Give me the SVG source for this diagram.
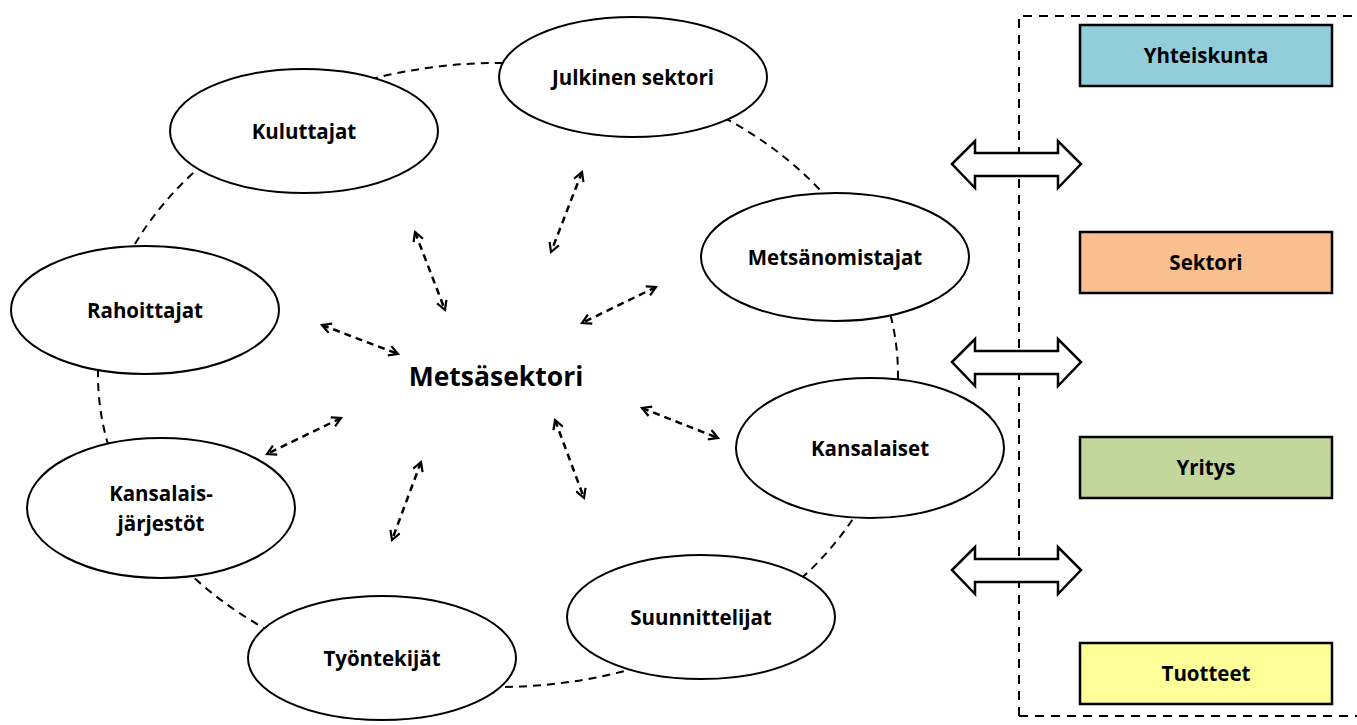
<svg xmlns="http://www.w3.org/2000/svg" width="1357" height="725" viewBox="0 0 1357 725">
<style>
.node{fill:#fff;stroke:#000;stroke-width:2}
.t{font-family:"Open Sans","Liberation Sans",sans-serif;font-weight:bold;font-size:20.5px;fill:#000;text-anchor:middle;dominant-baseline:central}
.box{stroke:#000;stroke-width:2.5}
.da{fill:none;stroke:#000;stroke-width:2.5;stroke-dasharray:7 5;marker-start:url(#h);marker-end:url(#h)}
.ring{fill:none;stroke:#000;stroke-width:2;stroke-dasharray:8 6}
.blk{fill:#fff;stroke:#000;stroke-width:2.5;stroke-linejoin:miter}
</style>
<defs>
<marker id="h" viewBox="0 0 12 12" refX="10" refY="6" markerWidth="12" markerHeight="12" markerUnits="userSpaceOnUse" orient="auto-start-reverse">
<path d="M1,1 L10,6 L1,11" fill="none" stroke="#000" stroke-width="2.2"/>
</marker>
</defs>
<rect width="1357" height="725" fill="#fff"/>
<g id="panel">
<path d="M1019,716 L1019,16 L1357,16 M1019,716 L1357,716" fill="none" stroke="#000" stroke-width="2" stroke-dasharray="9 7"/>
</g>
<g id="ring"><ellipse class="ring" cx="498" cy="375" rx="400" ry="312"/></g>
<g id="connectors">
<line class="da" x1="415" y1="232" x2="445" y2="310"/>
<line class="da" x1="582" y1="172" x2="551" y2="252"/>
<line class="da" x1="656" y1="287" x2="582" y2="323"/>
<line class="da" x1="322" y1="325" x2="398" y2="354"/>
<line class="da" x1="341" y1="418" x2="267" y2="454"/>
<line class="da" x1="421" y1="462" x2="392" y2="540"/>
<line class="da" x1="555" y1="420" x2="584" y2="498"/>
<line class="da" x1="642" y1="408" x2="718" y2="438"/>
<path class="blk" d="M952,164 L975,141 L975,153 L1058,153 L1058,141 L1081,164 L1058,188 L1058,176 L975,176 L975,188 Z"/>
<path class="blk" d="M952,362 L975,339 L975,351 L1058,351 L1058,339 L1081,362 L1058,386 L1058,374 L975,374 L975,386 Z"/>
<path class="blk" d="M952,570 L975,547 L975,559 L1058,559 L1058,547 L1081,570 L1058,594 L1058,582 L975,582 L975,594 Z"/>
</g>
<g id="julkinen"><ellipse class="node" cx="633" cy="77" rx="134" ry="60"/><text class="t" x="633" y="77">Julkinen sektori</text></g>
<g id="kuluttajat"><ellipse class="node" cx="304" cy="131" rx="134" ry="62"/><text class="t" x="304" y="131">Kuluttajat</text></g>
<g id="metsanomistajat"><ellipse class="node" cx="835" cy="257" rx="134" ry="64"/><text class="t" x="835" y="257">Metsänomistajat</text></g>
<g id="rahoittajat"><ellipse class="node" cx="145" cy="310" rx="134" ry="64"/><text class="t" x="145" y="310">Rahoittajat</text></g>
<g id="kansalaiset"><ellipse class="node" cx="870" cy="448" rx="134" ry="70"/><text class="t" x="870" y="448">Kansalaiset</text></g>
<g id="kansalaisjarjestot"><ellipse class="node" cx="161" cy="508" rx="134" ry="70"/><text class="t" x="161" y="493">Kansalais-</text><text class="t" x="161" y="523">järjestöt</text></g>
<g id="suunnittelijat"><ellipse class="node" cx="701" cy="617" rx="134" ry="62"/><text class="t" x="701" y="617">Suunnittelijat</text></g>
<g id="tyontekijat"><ellipse class="node" cx="382" cy="658" rx="134" ry="62"/><text class="t" x="382" y="658">Työntekijät</text></g>
<g id="center"><text class="t" x="496" y="376" style="font-size:26.5px">Metsäsektori</text></g>
<g id="yhteiskunta"><rect class="box" x="1080" y="25" width="252" height="61" fill="#92CDDC"/><text class="t" x="1206" y="55">Yhteiskunta</text></g>
<g id="sektori"><rect class="box" x="1080" y="232" width="252" height="61" fill="#FABF8F"/><text class="t" x="1206" y="262">Sektori</text></g>
<g id="yritys"><rect class="box" x="1080" y="437" width="252" height="61" fill="#C3D69B"/><text class="t" x="1206" y="467">Yritys</text></g>
<g id="tuotteet"><rect class="box" x="1080" y="643" width="252" height="61" fill="#FFFF99"/><text class="t" x="1206" y="673">Tuotteet</text></g>
</svg>
